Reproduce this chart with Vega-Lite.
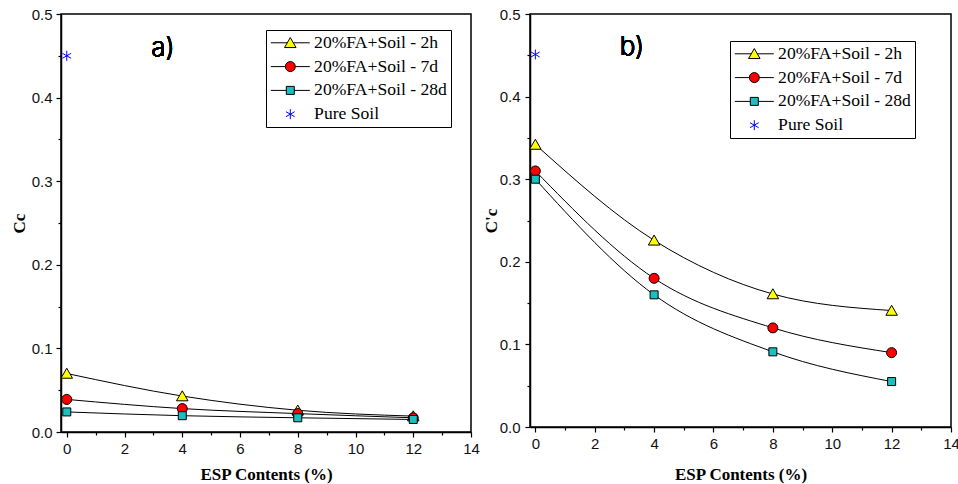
{
  "$schema": "https://vega.github.io/schema/vega-lite/v6.json",
  "background": "white",
  "padding": {"left": 9, "top": 6, "right": 0, "bottom": 2},
  "spacing": 0,
  "datasets": {
    "d": [
      {"panel": "a", "series": "20%FA+Soil - 2h", "esp": 0, "value": 0.070},
      {"panel": "a", "series": "20%FA+Soil - 2h", "esp": 4, "value": 0.043},
      {"panel": "a", "series": "20%FA+Soil - 2h", "esp": 8, "value": 0.026},
      {"panel": "a", "series": "20%FA+Soil - 2h", "esp": 12, "value": 0.019},
      {"panel": "a", "series": "20%FA+Soil - 7d", "esp": 0, "value": 0.039},
      {"panel": "a", "series": "20%FA+Soil - 7d", "esp": 4, "value": 0.028},
      {"panel": "a", "series": "20%FA+Soil - 7d", "esp": 8, "value": 0.022},
      {"panel": "a", "series": "20%FA+Soil - 7d", "esp": 12, "value": 0.017},
      {"panel": "a", "series": "20%FA+Soil - 28d", "esp": 0, "value": 0.024},
      {"panel": "a", "series": "20%FA+Soil - 28d", "esp": 4, "value": 0.0195},
      {"panel": "a", "series": "20%FA+Soil - 28d", "esp": 8, "value": 0.017},
      {"panel": "a", "series": "20%FA+Soil - 28d", "esp": 12, "value": 0.015},
      {"panel": "a", "series": "Pure Soil", "esp": 0, "value": 0.45},
      {"panel": "b", "series": "20%FA+Soil - 2h", "esp": 0, "value": 0.342},
      {"panel": "b", "series": "20%FA+Soil - 2h", "esp": 4, "value": 0.226},
      {"panel": "b", "series": "20%FA+Soil - 2h", "esp": 8, "value": 0.161},
      {"panel": "b", "series": "20%FA+Soil - 2h", "esp": 12, "value": 0.141},
      {"panel": "b", "series": "20%FA+Soil - 7d", "esp": 0, "value": 0.310},
      {"panel": "b", "series": "20%FA+Soil - 7d", "esp": 4, "value": 0.180},
      {"panel": "b", "series": "20%FA+Soil - 7d", "esp": 8, "value": 0.120},
      {"panel": "b", "series": "20%FA+Soil - 7d", "esp": 12, "value": 0.090},
      {"panel": "b", "series": "20%FA+Soil - 28d", "esp": 0, "value": 0.300},
      {"panel": "b", "series": "20%FA+Soil - 28d", "esp": 4, "value": 0.160},
      {"panel": "b", "series": "20%FA+Soil - 28d", "esp": 8, "value": 0.091},
      {"panel": "b", "series": "20%FA+Soil - 28d", "esp": 12, "value": 0.055},
      {"panel": "b", "series": "Pure Soil", "esp": 0, "value": 0.451}
    ]
  },
  "config": {
    "view": {"stroke": "black", "strokeWidth": 1.5},
    "axis": {
      "grid": false,
      "domainColor": "black",
      "domainWidth": 1.5,
      "tickColor": "black",
      "tickWidth": 1.2,
      "tickSize": 5,
      "labelFont": "Liberation Sans",
      "labelFontSize": 15,
      "labelColor": "#111111",
      "labelPadding": 4,
      "titleFont": "Liberation Serif",
      "titleFontWeight": "bold",
      "titleFontSize": 17,
      "titleColor": "black"
    },
    "legend": {
      "labelFont": "Liberation Serif",
      "labelFontSize": 17.6,
      "labelColor": "black",
      "strokeColor": "black",
      "fillColor": "white",
      "padding": 4,
      "rowPadding": 4.8,
      "symbolSize": 100,
      "symbolStrokeWidth": 1,
      "symbolOpacity": 1,
      "symbolOffset": 11.5,
      "labelOffset": 15,
      "labelLimit": 300
    }
  },
  "hconcat": [
    {
      "width": 410,
      "height": 418,
      "data": {"name": "d"},
      "transform": [{"filter": "datum.panel == 'a'"}],
      "layer": [
        {
          "transform": [{"filter": "datum.series != 'Pure Soil'"}],
          "mark": {"type": "line", "interpolate": "monotone", "color": "black", "strokeWidth": 1},
          "encoding": {
            "x": {"field": "esp", "type": "quantitative", "title": "ESP Contents (%)",
              "scale": {"domain": [-0.2, 14], "nice": false, "zero": false},
              "axis": {"values": [0,2,4,6,8,10,12,14], "orient": "bottom",
                "labelOverlap": false, "labelFlush": false, "titlePadding": 10}},
            "y": {"field": "value", "type": "quantitative", "title": "Cc",
              "scale": {"domain": [0, 0.5], "nice": false},
              "axis": {"values": [0,0.1,0.2,0.3,0.4,0.5], "orient": "left",
                "format": ".1f",
                "labelOverlap": false, "labelFlush": false, "titlePadding": 3}},
            "detail": {"field": "series"}
          }
        },
        {
          "mark": {"type": "point", "filled": true, "size": 100, "strokeWidth": 1, "opacity": 1},
          "encoding": {
            "x": {"field": "esp", "type": "quantitative", "title": null,
              "axis": {"values": [1,3,5,7,9,11,13], "orient": "bottom", "labels": false, "domain": false, "tickSize": 3, "title": null}},
            "y": {"field": "value", "type": "quantitative", "title": null,
              "axis": {"values": [0.05,0.15,0.25,0.35,0.45], "orient": "left", "labels": false, "domain": false, "tickSize": 3, "title": null}},
            "shape": {"field": "series", "legend": null, "scale": {
              "domain": ["20%FA+Soil - 2h", "20%FA+Soil - 7d", "20%FA+Soil - 28d", "Pure Soil"],
              "range": ["M0,-1.05L1.15,0.95L-1.15,0.95Z", "M1,0A1,1,0,1,1,-1,0A1,1,0,1,1,1,0Z", "M-0.8,-0.8H0.8V0.8H-0.8Z", "M0,-1V1M-0.87,-0.5L0.87,0.5M-0.87,0.5L0.87,-0.5"]}},
            "fill": {"field": "series", "legend": null, "scale": {
              "domain": ["20%FA+Soil - 2h", "20%FA+Soil - 7d", "20%FA+Soil - 28d", "Pure Soil"],
              "range": ["#FFFF00", "#FF0000", "#1ABFBF", "#0000FF"]}},
            "stroke": {"field": "series", "legend": null, "scale": {
              "domain": ["20%FA+Soil - 2h", "20%FA+Soil - 7d", "20%FA+Soil - 28d", "Pure Soil"],
              "range": ["#000000", "#000000", "#000000", "#0000FF"]}}
          }
        },
        {
          "mark": {"type": "point", "filled": true, "size": 100, "strokeWidth": 1, "opacity": 0},
          "encoding": {
            "x": {"field": "esp", "type": "quantitative", "axis": null},
            "y": {"field": "value", "type": "quantitative", "axis": null},
            "shape": {"field": "series", "legend": {"title": null, "orient": "none", "legendX": 205, "legendY": 16}, "scale": {
              "domain": ["20%FA+Soil - 2h", "20%FA+Soil - 7d", "20%FA+Soil - 28d", "Pure Soil"],
              "range": ["M-3.9,0H-0.6M0.6,0H3.9M0,-1.05L1.15,0.95L-1.15,0.95Z", "M-3.9,0H-1M1,0H3.9M1,0A1,1,0,1,1,-1,0A1,1,0,1,1,1,0Z", "M-3.9,0H-0.8M0.8,0H3.9M-0.8,-0.8H0.8V0.8H-0.8Z", "M0,-1V1M-0.87,-0.5L0.87,0.5M-0.87,0.5L0.87,-0.5"]}},
            "fill": {"field": "series", "legend": {"title": null, "orient": "none", "legendX": 205, "legendY": 16}, "scale": {
              "domain": ["20%FA+Soil - 2h", "20%FA+Soil - 7d", "20%FA+Soil - 28d", "Pure Soil"],
              "range": ["#FFFF00", "#FF0000", "#1ABFBF", "#0000FF"]}},
            "stroke": {"field": "series", "legend": {"title": null, "orient": "none", "legendX": 205, "legendY": 16}, "scale": {
              "domain": ["20%FA+Soil - 2h", "20%FA+Soil - 7d", "20%FA+Soil - 28d", "Pure Soil"],
              "range": ["#000000", "#000000", "#000000", "#0000FF"]}}
          }
        },
        {
          "mark": {"type": "text", "font": "Inter", "fontSize": 26, "fontWeight": 300, "align": "center", "baseline": "alphabetic", "color": "black"},
          "encoding": {
            "x": {"datum": 3.33, "type": "quantitative", "axis": null},
            "y": {"datum": 0.45, "type": "quantitative", "axis": null},
            "text": {"value": "a)"}
          }
        }
      ],
      "resolve": {
        "scale": {"shape": "independent", "fill": "independent", "stroke": "independent"},
        "axis": {"x": "independent", "y": "independent"}
      }
    },
    {
      "width": 421,
      "height": 413,
      "data": {"name": "d"},
      "transform": [{"filter": "datum.panel == 'b'"}],
      "layer": [
        {
          "transform": [{"filter": "datum.series != 'Pure Soil'"}],
          "mark": {"type": "line", "interpolate": "monotone", "color": "black", "strokeWidth": 1},
          "encoding": {
            "x": {"field": "esp", "type": "quantitative", "title": "ESP Contents (%)",
              "scale": {"domain": [-0.18, 14], "nice": false, "zero": false},
              "axis": {"values": [0,2,4,6,8,10,12,14], "orient": "bottom",
                "labelOverlap": false, "labelFlush": false, "titlePadding": 15}},
            "y": {"field": "value", "type": "quantitative", "title": "C'c",
              "scale": {"domain": [0, 0.5], "nice": false},
              "axis": {"values": [0,0.1,0.2,0.3,0.4,0.5], "orient": "left",
                "format": ".1f", "labelPadding": 5,
                "labelOverlap": false, "labelFlush": false, "titlePadding": -1}},
            "detail": {"field": "series"}
          }
        },
        {
          "mark": {"type": "point", "filled": true, "size": 100, "strokeWidth": 1, "opacity": 1},
          "encoding": {
            "x": {"field": "esp", "type": "quantitative", "title": null,
              "axis": {"values": [1,3,5,7,9,11,13], "orient": "bottom", "labels": false, "domain": false, "tickSize": 3, "title": null}},
            "y": {"field": "value", "type": "quantitative", "title": null,
              "axis": {"values": [0.05,0.15,0.25,0.35,0.45], "orient": "left", "labels": false, "domain": false, "tickSize": 3, "title": null}},
            "shape": {"field": "series", "legend": null, "scale": {
              "domain": ["20%FA+Soil - 2h", "20%FA+Soil - 7d", "20%FA+Soil - 28d", "Pure Soil"],
              "range": ["M0,-1.05L1.15,0.95L-1.15,0.95Z", "M1,0A1,1,0,1,1,-1,0A1,1,0,1,1,1,0Z", "M-0.8,-0.8H0.8V0.8H-0.8Z", "M0,-1V1M-0.87,-0.5L0.87,0.5M-0.87,0.5L0.87,-0.5"]}},
            "fill": {"field": "series", "legend": null, "scale": {
              "domain": ["20%FA+Soil - 2h", "20%FA+Soil - 7d", "20%FA+Soil - 28d", "Pure Soil"],
              "range": ["#FFFF00", "#FF0000", "#1ABFBF", "#0000FF"]}},
            "stroke": {"field": "series", "legend": null, "scale": {
              "domain": ["20%FA+Soil - 2h", "20%FA+Soil - 7d", "20%FA+Soil - 28d", "Pure Soil"],
              "range": ["#000000", "#000000", "#000000", "#0000FF"]}}
          }
        },
        {
          "mark": {"type": "point", "filled": true, "size": 100, "strokeWidth": 1, "opacity": 0},
          "encoding": {
            "x": {"field": "esp", "type": "quantitative", "axis": null},
            "y": {"field": "value", "type": "quantitative", "axis": null},
            "shape": {"field": "series", "legend": {"title": null, "orient": "none", "legendX": 200, "legendY": 27}, "scale": {
              "domain": ["20%FA+Soil - 2h", "20%FA+Soil - 7d", "20%FA+Soil - 28d", "Pure Soil"],
              "range": ["M-3.9,0H-0.6M0.6,0H3.9M0,-1.05L1.15,0.95L-1.15,0.95Z", "M-3.9,0H-1M1,0H3.9M1,0A1,1,0,1,1,-1,0A1,1,0,1,1,1,0Z", "M-3.9,0H-0.8M0.8,0H3.9M-0.8,-0.8H0.8V0.8H-0.8Z", "M0,-1V1M-0.87,-0.5L0.87,0.5M-0.87,0.5L0.87,-0.5"]}},
            "fill": {"field": "series", "legend": {"title": null, "orient": "none", "legendX": 200, "legendY": 27}, "scale": {
              "domain": ["20%FA+Soil - 2h", "20%FA+Soil - 7d", "20%FA+Soil - 28d", "Pure Soil"],
              "range": ["#FFFF00", "#FF0000", "#1ABFBF", "#0000FF"]}},
            "stroke": {"field": "series", "legend": {"title": null, "orient": "none", "legendX": 200, "legendY": 27}, "scale": {
              "domain": ["20%FA+Soil - 2h", "20%FA+Soil - 7d", "20%FA+Soil - 28d", "Pure Soil"],
              "range": ["#000000", "#000000", "#000000", "#0000FF"]}}
          }
        },
        {
          "mark": {"type": "text", "font": "Inter", "fontSize": 26, "fontWeight": 300, "align": "center", "baseline": "alphabetic", "color": "black"},
          "encoding": {
            "x": {"datum": 3.25, "type": "quantitative", "axis": null},
            "y": {"datum": 0.45, "type": "quantitative", "axis": null},
            "text": {"value": "b)"}
          }
        }
      ],
      "resolve": {
        "scale": {"shape": "independent", "fill": "independent", "stroke": "independent"},
        "axis": {"x": "independent", "y": "independent"}
      }
    }
  ]
}
